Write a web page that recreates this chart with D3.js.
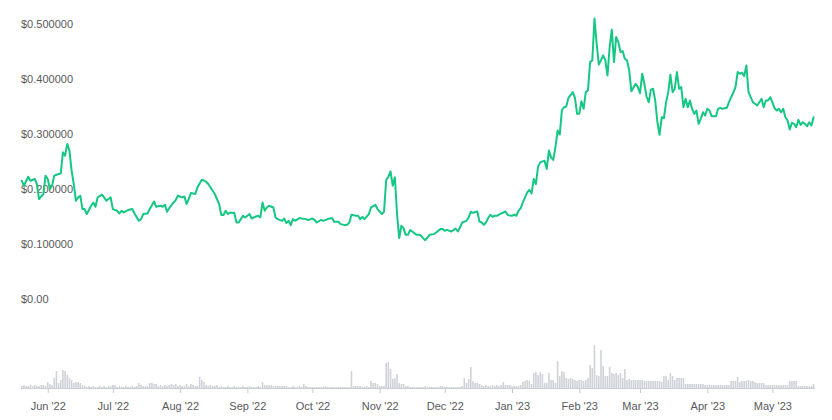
<!DOCTYPE html>
<html>
<head>
<meta charset="utf-8">
<script src="https://cdn.jsdelivr.net/npm/d3@7"></script>
<style>
  html, body { margin: 0; padding: 0; background: #ffffff; }
  svg { display: block; }
  text { font-family: "Liberation Sans", Arial, sans-serif; }
</style>
</head>
<body>
<svg id="chart" width="832" height="420"></svg>
<script>
// ---------- DATA ----------
const startDate = "2022-05-20";            // first day of the 1-year window
const endDate = "2023-05-20";
// price samples: day offset from startDate, price in USD
const dayOffsets = [
  0,1,3,4,6,7,8,10,11,12,
  13,14,15,17,18,19,20,21,22,23,
  24,25,26,27,28,29,30,32,33,34,
  35,37,38,39,40,41,42,44,45,46,
  47,49,51,52,54,55,56,58,59,61,
  62,64,65,66,67,68,70,71,72,74,
  75,76,77,78,80,81,83,85,86,88,
  89,91,92,93,94,95,96,98,99,100,
  101,102,103,105,106,108,109,110,111,112,
  113,114,116,117,118,120,121,122,123,124,
  125,126,128,129,131,132,134,135,136,138,
  139,141,143,144,146,147,149,150,151,152,
  154,155,156,157,158,160,161,163,164,165,
  166,167,168,169,170,171,172,173,174,175,
  176,177,178,179,180,182,183,184,185,186,
  187,188,190,191,193,194,195,196,198,199,
  200,201,202,203,205,206,207,208,210,211,
  212,213,214,215,216,217,218,219,221,222,
  223,224,226,227,228,229,230,231,233,234,
  235,236,237,238,239,241,242,243,244,245,
  246,247,248,249,250,251,252,254,255,256,
  257,258,259,260,261,262,263,264,265,266,
  267,268,269,270,271,272,273,274,275,276,
  277,278,279,280,281,283,284,285,286,287,
  288,289,290,291,292,293,294,295,296,297,
  298,299,300,301,302,303,304,305,306,307,
  308,309,310,311,312,313,314,315,316,317,
  318,320,321,322,323,325,326,327,328,329,
  330,331,332,333,334,335,336,337,338,339,
  340,341,342,343,344,345,346,347,348,349,
  350,351,352,353,354,355,356,357,358,359,
  360,361,362,363,364,365
];
const prices = [
  0.2153,0.2062,0.2226,0.2153,0.2184,0.2093,0.1819,0.1911,0.2245,0.2184,
  0.2002,0.2062,0.2245,0.2276,0.2286,0.2670,0.2609,0.2823,0.2701,0.2336,
  0.2093,0.1788,0.1849,0.1880,0.1637,0.1637,0.1546,0.1697,0.1757,0.1679,
  0.1849,0.1898,0.1849,0.1788,0.1819,0.1849,0.1637,0.1606,0.1557,0.1606,
  0.1575,0.1619,0.1637,0.1557,0.1423,0.1454,0.1546,0.1557,0.1637,0.1776,
  0.1679,0.1697,0.1679,0.1715,0.1588,0.1655,0.1757,0.1801,0.1880,0.1849,
  0.1867,0.1728,0.1819,0.1929,0.1911,0.2031,0.2172,0.2135,0.2093,0.1971,
  0.1911,0.1728,0.1527,0.1527,0.1606,0.1546,0.1575,0.1564,0.1392,0.1392,
  0.1454,0.1515,0.1484,0.1546,0.1465,0.1502,0.1515,0.1484,0.1757,0.1606,
  0.1666,0.1697,0.1666,0.1484,0.1454,0.1423,0.1465,0.1381,0.1423,0.1345,
  0.1454,0.1423,0.1473,0.1465,0.1454,0.1436,0.1465,0.1442,0.1392,0.1442,
  0.1423,0.1454,0.1473,0.1405,0.1405,0.1363,0.1345,0.1350,0.1392,0.1533,
  0.1515,0.1515,0.1454,0.1496,0.1454,0.1546,0.1666,0.1715,0.1637,0.1593,
  0.1546,0.1588,0.2166,0.2226,0.2323,0.2062,0.2214,0.1546,0.1108,0.1332,
  0.1290,0.1168,0.1168,0.1254,0.1228,0.1168,0.1168,0.1155,0.1108,0.1071,
  0.1119,0.1168,0.1181,0.1210,0.1272,0.1272,0.1241,0.1259,0.1228,0.1254,
  0.1283,0.1228,0.1301,0.1392,0.1423,0.1484,0.1588,0.1569,0.1593,0.1411,
  0.1392,0.1350,0.1392,0.1473,0.1533,0.1496,0.1515,0.1515,0.1557,0.1575,
  0.1593,0.1527,0.1515,0.1533,0.1515,0.1606,0.1655,0.1757,0.1940,0.1984,
  0.1922,0.2184,0.2093,0.2409,0.2487,0.2518,0.2367,0.2701,0.2578,0.2531,
  0.2761,0.3066,0.2993,0.3443,0.3491,0.3504,0.3662,0.3765,0.3662,0.3370,
  0.3370,0.3600,0.3462,0.3765,0.3796,0.4312,0.4343,0.5104,0.4648,0.4270,
  0.4343,0.4434,0.4343,0.4069,0.4586,0.4903,0.4312,0.4768,0.4677,0.4495,
  0.4513,0.4374,0.4343,0.4161,0.3783,0.3918,0.3856,0.3746,0.4100,0.3918,
  0.3686,0.3582,0.3808,0.3827,0.3613,0.3217,0.2989,0.3308,0.3290,0.3582,
  0.3765,0.4082,0.3765,0.3827,0.4130,0.3827,0.3856,0.3491,0.3644,0.3491,
  0.3613,0.3462,0.3370,0.3431,0.3188,0.3279,0.3400,0.3339,0.3462,0.3431,
  0.3327,0.3327,0.3462,0.3480,0.3462,0.3480,0.3582,0.3673,0.3754,0.3856,
  0.4130,0.4100,0.4119,0.4057,0.4252,0.3765,0.3673,0.3582,0.3553,0.3522,
  0.3582,0.3644,0.3491,0.3613,0.3613,0.3673,0.3582,0.3473,0.3431,0.3462,
  0.3400,0.3462,0.3308,0.3248,0.3084,0.3206,0.3188,0.3126,0.3261,0.3170,
  0.3217,0.3188,0.3144,0.3217,0.3157,0.3308
];
// daily trading volume (relative units, $M), one per day from startDate
const volumes = [
  2,3,2,2,3,2,3,2,2,3,  3,2,6,4,3,10,17,5,8,18,
  17,13,10,8,5,6,6,5,3,2,  1,2,1,2,1,1,2,1,2,1,
  2,2,3,3,1,2,1,1,2,1,  1,2,1,2,5,3,2,2,2,5,
  5,4,4,2,3,2,3,2,3,4,  3,4,2,3,2,2,4,2,4,3,
  2,2,11,8,6,3,2,3,2,2,  3,1,2,1,1,2,1,1,2,1,
  1,1,2,1,1,2,1,1,1,2,  1,6,3,3,3,3,2,2,2,2,
  2,2,2,1,1,2,1,1,2,1,  4,2,1,1,1,1,1,1,1,1,
  2,1,1,1,1,1,1,1,1,1,  1,1,17,2,2,2,2,1,1,2,
  1,7,5,5,4,2,2,2,25,26,  19,9,10,14,5,4,4,2,2,1,
  1,1,1,1,1,1,2,1,1,1,  1,1,1,2,2,1,1,1,1,1,
  1,1,1,2,10,5,9,21,7,5,  5,4,3,2,3,2,2,3,2,3,
  2,3,6,3,3,3,2,2,2,2,  3,6,7,8,7,4,15,16,13,16,
  14,5,5,15,8,8,5,27,12,17,  16,10,9,10,9,8,7,8,8,7,
  8,10,23,20,43,13,12,38,22,12,  12,21,15,14,15,13,15,10,19,8,
  9,8,8,8,8,8,8,7,7,7,  7,7,7,7,7,6,12,12,8,15,
  12,8,10,10,10,10,4,4,4,4,  4,4,4,4,4,3,3,3,3,3,
  3,3,3,3,3,3,3,7,7,7,  11,6,7,7,7,8,7,7,6,5,
  5,5,5,3,3,3,3,3,3,3,  3,3,3,3,7,7,7,7,2,2,
  2,2,2,2,2,4
];
const yTickValues = [0, 0.1, 0.2, 0.3, 0.4, 0.5];
const yTickLabels = ["$0.00", "$0.100000", "$0.200000", "$0.300000", "$0.400000", "$0.500000"];

// ---------- CHART ----------
const parse = d3.timeParse("%Y-%m-%d");
const t0 = parse(startDate), t1 = parse(endDate);
const priceData = dayOffsets.map((o, i) => ({ date: d3.timeDay.offset(t0, o), price: prices[i] }));
const volData = volumes.map((v, i) => ({ date: d3.timeDay.offset(t0, i), vol: v }));

const svg = d3.select("#chart");
const x = d3.scaleTime().domain([t0, t1]).range([21.7, 813.6]);
const y = d3.scaleLinear().domain([0, 0.5]).range([299, 24.3]);
const yVol = d3.scaleLinear().domain([0, 43]).range([388, 345]);

// y labels
svg.append("g").selectAll("text")
  .data(yTickValues)
  .join("text")
  .attr("x", 21)
  .attr("y", d => y(d))
  .attr("dy", "0.35em")
  .attr("font-size", 11)
  .attr("fill", "#58595b")
  .text((d, i) => yTickLabels[i]);

// volume bars
const barW = 1.6;
svg.append("g").selectAll("rect")
  .data(volData)
  .join("rect")
  .attr("x", d => x(d.date) - barW / 2)
  .attr("width", barW)
  .attr("y", d => yVol(d.vol))
  .attr("height", d => yVol(0) - yVol(d.vol))
  .attr("fill", "#cfd2d8");

// x axis
const xAxis = d3.axisBottom(x)
  .ticks(d3.timeMonth.every(1))
  .tickFormat(d3.timeFormat("%b '%y"))
  .tickSize(5)
  .tickSizeOuter(0)
  .tickPadding(9);
const gx = svg.append("g").attr("transform", "translate(0,388)").call(xAxis);
gx.select(".domain").attr("stroke", "#c9ccd2").attr("d", "M21,0.5H815");
gx.selectAll(".tick line").attr("stroke", "#c9ccd2");
gx.selectAll(".tick text")
  .attr("font-size", 11)
  .attr("font-family", "'Liberation Sans', Arial, sans-serif")
  .attr("fill", "#58595b");

// price line
const line = d3.line().x(d => x(d.date)).y(d => y(d.price));
svg.append("path")
  .datum(priceData)
  .attr("fill", "none")
  .attr("stroke", "#16c784")
  .attr("stroke-width", 2)
  .attr("stroke-linejoin", "round")
  .attr("stroke-linecap", "round")
  .attr("d", line);

if (dayOffsets.length !== prices.length) console.error("length mismatch", dayOffsets.length, prices.length);
</script>
</body>
</html>
